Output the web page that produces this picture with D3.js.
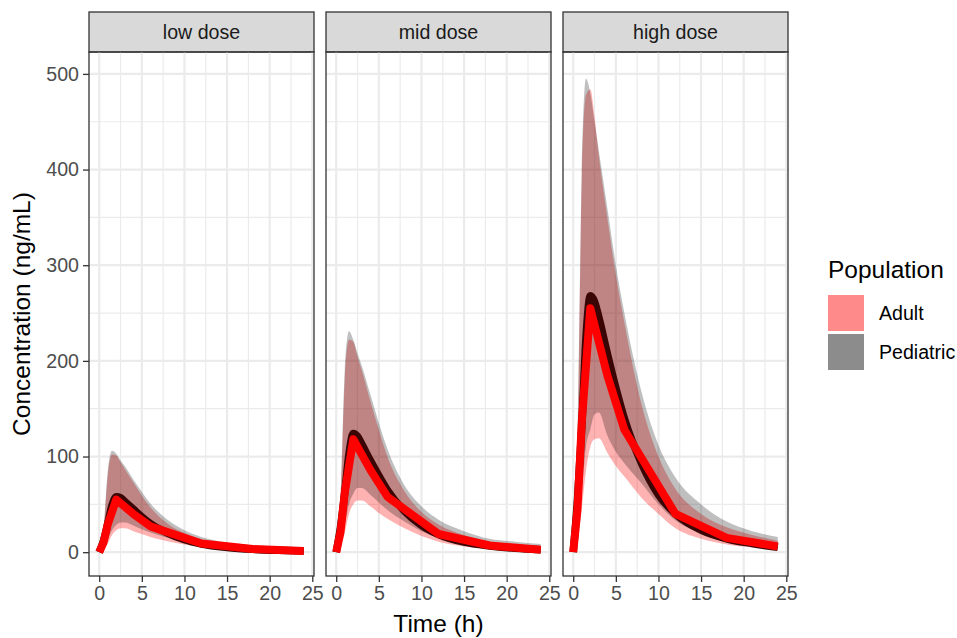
<!DOCTYPE html>
<html>
<head>
<meta charset="utf-8">
<script src="https://cdn.jsdelivr.net/npm/d3@7"></script>
<style>
  html, body { margin: 0; padding: 0; background: #fff; }
  svg { display: block; font-family: "Liberation Sans", Arial, sans-serif; }
</style>
</head>
<body>
<svg id="chart" width="957" height="638"></svg>
<script>
const doses = ['low dose', 'mid dose', 'high dose']
const populations = ['Adult', 'Pediatric']
const simTimes = [0, 0.5, 1, 1.5, 2, 2.5, 3, 4, 5, 6, 8, 10, 12, 15, 18, 21, 24]
const obsTimes = [0, 0.5, 1, 2, 4, 6, 12, 18, 24]
const xTicks = [0, 5, 10, 15, 20, 25]
const yTicks = [0, 100, 200, 300, 400, 500]

// low dose
const adultUpperLow = [0, 22, 80, 102, 101, 94, 87, 73, 59, 47, 30, 20, 13.5, 8, 5, 3.5, 2.8]
const adultLowerLow = [0, 2.5, 9, 18, 23, 25, 25, 22, 19, 16, 11.5, 8, 5, 3, 1.6, 1, 0.6]
const pedUpperLow = [0, 25, 85, 106, 103, 96, 90, 76, 63, 51, 34, 23, 16, 10, 7, 5, 4]
const pedLowerLow = [0, 4, 13, 23, 28.5, 31, 31, 28, 24, 20.5, 15, 10, 7, 4, 2.5, 1.6, 1]
const pedMedianLow = [0, 12, 30, 49, 58, 57, 53, 45, 37, 30, 20, 13, 8.6, 5, 3, 1.9, 1.2]
const adultMedianLow = [0, 10, 29, 55, 40, 27, 9, 3.3, 1.2]

// mid dose
const adultUpperMid = [0, 50, 180, 222, 220, 204, 190, 158, 128, 100, 64, 42, 29, 18, 11, 8, 6]
const adultLowerMid = [0, 5, 20, 40, 50, 54, 54, 48, 41, 35, 25, 17, 11, 6, 3.5, 2, 1.2]
const pedUpperMid = [0, 55, 190, 231, 222, 208, 195, 165, 135, 108, 70, 48, 34, 22, 14, 11, 8.5]
const pedLowerMid = [0, 8, 28, 50, 61, 67, 67, 60, 52, 44, 32, 22, 15, 9, 5, 3.5, 2]
const pedMedianMid = [0, 26, 62, 103, 124, 121, 113, 96, 80, 65, 43, 28, 18.5, 10.5, 6.5, 4, 2.5]
const adultMedianMid = [0, 21, 62, 118, 86, 58, 19, 7, 2.5]

// high dose
const adultUpperHigh = [0, 110, 390, 478, 484, 455, 415, 350, 290, 240, 155, 100, 66, 40, 26, 18, 12]
const adultLowerHigh = [0, 10, 45, 85, 110, 118, 119, 104, 90, 79, 57, 40, 25, 14, 8, 5, 3]
const pedUpperHigh = [0, 120, 400, 495, 480, 450, 420, 360, 300, 250, 168, 112, 78, 50, 32, 22, 16]
const pedLowerHigh = [0, 15, 60, 110, 128, 144, 146, 122, 105, 93, 72, 50, 33, 20, 12, 8, 5]
const pedMedianHigh = [0, 55, 130, 225, 268, 262, 246, 208, 172, 140, 93, 60, 40, 23, 14, 9, 5]
const adultMedianHigh = [0, 45, 135, 255, 185, 128, 40, 15, 6]

const panels = [
    { adultUpper: adultUpperLow, adultLower: adultLowerLow, pedUpper: pedUpperLow, pedLower: pedLowerLow, pedMedian: pedMedianLow, adultMedian: adultMedianLow },
    { adultUpper: adultUpperMid, adultLower: adultLowerMid, pedUpper: pedUpperMid, pedLower: pedLowerMid, pedMedian: pedMedianMid, adultMedian: adultMedianMid },
    { adultUpper: adultUpperHigh, adultLower: adultLowerHigh, pedUpper: pedUpperHigh, pedLower: pedLowerHigh, pedMedian: pedMedianHigh, adultMedian: adultMedianHigh },
]

const PANEL_LEFT = [89, 326, 563]
const PANEL_W = 225
const STRIP_TOP = 12
const PANEL_TOP = 52
const PANEL_BOTTOM = 576
const SMALL = 19.6
const BASE = 24.5

const svg = d3.select('#chart')

const x = d3.scaleLinear().domain([-1.2, 25.2]).range([0, PANEL_W])
const y = d3.scaleLinear().domain([-24.9, 522.9]).range([PANEL_BOTTOM, PANEL_TOP])

const ribbon = (lo, hi) => d3.area()
    .x((d, i) => x(simTimes[i]))
    .y0((d, i) => y(lo[i]))
    .y1((d, i) => y(hi[i]))
    .curve(d3.curveMonotoneX)(simTimes)

const smoothLine = d3.line()
    .x((d, i) => x(simTimes[i]))
    .y(d => y(d))
    .curve(d3.curveMonotoneX)

const obsLine = d3.line()
    .x((d, i) => x(obsTimes[i]))
    .y(d => y(d))

panels.forEach((p, k) => {
    const g = svg.append('g').attr('transform', `translate(${PANEL_LEFT[k]},0)`)

    // strip
    g.append('rect')
        .attr('x', 0).attr('y', STRIP_TOP)
        .attr('width', PANEL_W).attr('height', PANEL_TOP - STRIP_TOP)
        .attr('fill', '#d9d9d9').attr('stroke', '#333').attr('stroke-width', 1.3)
    g.append('text')
        .attr('x', PANEL_W / 2).attr('y', (STRIP_TOP + PANEL_TOP) / 2)
        .attr('dy', '0.35em').attr('text-anchor', 'middle')
        .attr('font-size', SMALL).attr('fill', '#1a1a1a')
        .text(doses[k])

    // grid
    const minorX = d3.range(2.5, 25, 5)
    const minorY = d3.range(50, 500, 100)
    g.selectAll('.gx-minor').data(minorX).enter().append('line')
        .attr('x1', d => x(d)).attr('x2', d => x(d))
        .attr('y1', PANEL_TOP).attr('y2', PANEL_BOTTOM)
        .attr('stroke', '#ebebeb').attr('stroke-width', 1.2)
    g.selectAll('.gy-minor').data(minorY).enter().append('line')
        .attr('x1', 0).attr('x2', PANEL_W)
        .attr('y1', d => y(d)).attr('y2', d => y(d))
        .attr('stroke', '#ebebeb').attr('stroke-width', 1.2)
    g.selectAll('.gx').data(xTicks).enter().append('line')
        .attr('x1', d => x(d)).attr('x2', d => x(d))
        .attr('y1', PANEL_TOP).attr('y2', PANEL_BOTTOM)
        .attr('stroke', '#ebebeb').attr('stroke-width', 2.2)
    g.selectAll('.gy').data(yTicks).enter().append('line')
        .attr('x1', 0).attr('x2', PANEL_W)
        .attr('y1', d => y(d)).attr('y2', d => y(d))
        .attr('stroke', '#ebebeb').attr('stroke-width', 2.2)

    // ribbons
    g.append('path').attr('d', ribbon(p.adultLower, p.adultUpper))
        .attr('fill', 'red').attr('fill-opacity', 0.3)
    g.append('path').attr('d', ribbon(p.pedLower, p.pedUpper))
        .attr('fill', 'black').attr('fill-opacity', 0.25)

    // medians
    g.append('path').attr('d', smoothLine(p.pedMedian))
        .attr('fill', 'none').attr('stroke', '#3a0505').attr('stroke-width', 7.5)
        .attr('stroke-linejoin', 'round')
    g.append('path').attr('d', obsLine(p.adultMedian))
        .attr('fill', 'none').attr('stroke', '#ff0000').attr('stroke-width', 8)
        .attr('stroke-linejoin', 'round')

    // border
    g.append('rect')
        .attr('x', 0).attr('y', PANEL_TOP)
        .attr('width', PANEL_W).attr('height', PANEL_BOTTOM - PANEL_TOP)
        .attr('fill', 'none').attr('stroke', '#333').attr('stroke-width', 1.3)

    // x axis
    const xa = g.append('g').attr('transform', `translate(0,${PANEL_BOTTOM})`)
        .call(d3.axisBottom(x).tickValues(xTicks).tickSize(6).tickPadding(4))
    xa.select('.domain').remove()
    xa.selectAll('line').attr('stroke', '#333').attr('stroke-width', 1.3)
    xa.selectAll('text').attr('font-size', SMALL).attr('fill', '#4d4d4d')
        .attr('font-family', '"Liberation Sans", Arial, sans-serif')

    if (k === 0) {
        const ya = g.append('g')
            .call(d3.axisLeft(y).tickValues(yTicks).tickSize(6).tickPadding(4))
        ya.select('.domain').remove()
        ya.selectAll('line').attr('stroke', '#333').attr('stroke-width', 1.3)
        ya.selectAll('text').attr('font-size', SMALL).attr('fill', '#4d4d4d')
            .attr('font-family', '"Liberation Sans", Arial, sans-serif')
    }
})

// axis titles
svg.append('text')
    .attr('x', (PANEL_LEFT[0] + PANEL_LEFT[2] + PANEL_W) / 2).attr('y', 632)
    .attr('text-anchor', 'middle').attr('font-size', BASE).attr('fill', '#000')
    .text('Time (h)')
svg.append('text')
    .attr('transform', `translate(30,${(PANEL_TOP + PANEL_BOTTOM) / 2}) rotate(-90)`)
    .attr('text-anchor', 'middle').attr('font-size', BASE).attr('fill', '#000')
    .text('Concentration (ng/mL)')

// legend
const legendColors = ['#ff8a8a', '#8c8c8c']
const lg = svg.append('g').attr('transform', 'translate(828,0)')
lg.append('text').attr('x', 0).attr('y', 278)
    .attr('font-size', BASE).attr('fill', '#000').text('Population')
lg.selectAll('.key').data(populations).enter().append('rect')
    .attr('x', 0).attr('y', (d, i) => 295 + i * 39)
    .attr('width', 36).attr('height', 36)
    .attr('fill', (d, i) => legendColors[i])
lg.selectAll('.lab').data(populations).enter().append('text')
    .attr('x', 51).attr('y', (d, i) => 313 + i * 39)
    .attr('dy', '0.35em').attr('font-size', SMALL).attr('fill', '#000')
    .text(d => d)
</script>
</body>
</html>
